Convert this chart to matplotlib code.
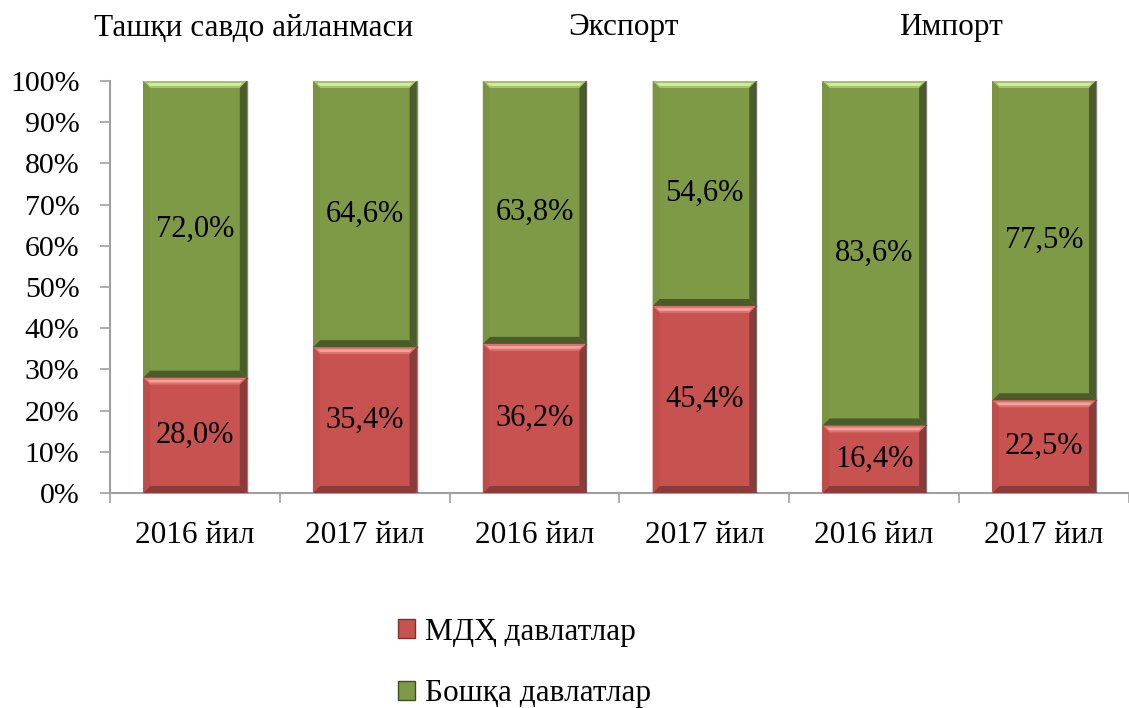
import matplotlib.pyplot as plt
from matplotlib.patches import Polygon, Patch
import numpy as np

plt.rcParams['font.family'] = ['Liberation Serif', 'DejaVu Serif']

# данные
years = ['2016 йил', '2017 йил', '2016 йил', '2017 йил', '2016 йил', '2017 йил']
groups = ['Ташқи савдо айланмаси', 'Экспорт', 'Импорт']
mdh = [28.0, 35.4, 36.2, 45.4, 16.4, 22.5]
boshqa = [72.0, 64.6, 63.8, 54.6, 83.6, 77.5]
series_names = ['МДҲ давлатлар', 'Бошқа давлатлар']

red = '#C8524F'
green = '#7F9A47'

fig = plt.figure(figsize=(11.29, 7.08), dpi=100)
W, H = 1129, 708
ax = fig.add_axes([110 / W, (H - 493) / H, 1019 / W, 412 / H])

x = np.arange(len(years))
width = 0.61
b1 = ax.bar(x, mdh, width, color=red, zorder=2)
b2 = ax.bar(x, boshqa, width, bottom=mdh, color=green, zorder=2)

xlim = (-0.5, -0.5 + 1019 / 171.5)
ax.set_xlim(*xlim)
ax.set_ylim(0, 100)

# псевдо-фаска
px_x = (xlim[1] - xlim[0]) / 1019
px_y = 100 / 412


def bevel(rect, light, mid, dark, side):
    x0, y0 = rect.get_x(), rect.get_y()
    x1, y1 = x0 + rect.get_width(), y0 + rect.get_height()
    dx, dy = 7 * px_x, 7 * px_y
    polys = [
        ([(x0, y1), (x1, y1), (x1 - dx, y1 - dy), (x0 + dx, y1 - dy)], mid),
        ([(x0 + dx * 0.6, y1 - dy * 0.3), (x1 - dx * 0.6, y1 - dy * 0.3),
          (x1 - dx, y1 - dy * 0.7), (x0 + dx, y1 - dy * 0.7)], light),
        ([(x0, y0), (x1, y0), (x1 - dx, y0 + dy), (x0 + dx, y0 + dy)], dark),
        ([(x0, y0), (x0, y1), (x0 + dx, y1 - dy), (x0 + dx, y0 + dy)], side),
        ([(x1, y0), (x1, y1), (x1 - dx, y1 - dy), (x1 - dx, y0 + dy)], dark),
    ]
    for pts, c in polys:
        ax.add_patch(Polygon(pts, closed=True, facecolor=c, edgecolor='none', zorder=3))
    ax.plot([x1, x1], [y0, y1], color='#2E2E2E', lw=1, alpha=0.6, zorder=3)


for r in b1:
    bevel(r, '#F4A09C', '#DC726E', '#8A3C3A', '#BF4E4B')
for r in b2:
    bevel(r, '#D4EE9E', '#A5C36B', '#4A5C2A', '#7A9443')

for i in range(len(years)):
    ax.text(x[i], mdh[i] / 2, f'{mdh[i]:.1f}%'.replace('.', ','),
            ha='center', va='center', fontsize=22, zorder=4)
    ax.text(x[i], mdh[i] + boshqa[i] / 2, f'{boshqa[i]:.1f}%'.replace('.', ','),
            ha='center', va='center', fontsize=22, zorder=4)

ax.set_yticks(np.arange(0, 101, 10))
ax.set_yticklabels([f'{v}%' for v in range(0, 101, 10)], fontsize=21.5)
ax.set_xticks(x)
ax.set_xticklabels(years, fontsize=22.5)
ax.set_xticks(np.arange(-0.5, 6, 1), minor=True)
ax.tick_params(axis='x', which='major', length=0, pad=20)
ax.tick_params(axis='x', which='minor', length=7, color='#A0A0A0', width=1.2)
ax.tick_params(axis='y', length=7, color='#A0A0A0', width=1.2, pad=15)
for s in ['top', 'right']:
    ax.spines[s].set_visible(False)
for s in ['left', 'bottom']:
    ax.spines[s].set_color('#A0A0A0')
    ax.spines[s].set_linewidth(1.5)

# названия групп
for gx, g in zip([254, 623, 951], groups):
    fig.text(gx / W, (H - 28) / H, g, ha='center', va='center', fontsize=22.5)

handles = [Patch(facecolor=red, edgecolor='#7A3331'), Patch(facecolor=green, edgecolor='#3F4F22')]
fig.legend(handles, series_names, loc='center left', bbox_to_anchor=(370 / W, (H - 663) / H),
           frameon=False, fontsize=22.5, handlelength=0.55, handleheight=0.55,
           handletextpad=0.3, labelspacing=1.05)

fig.savefig('out.png', dpi=100)
